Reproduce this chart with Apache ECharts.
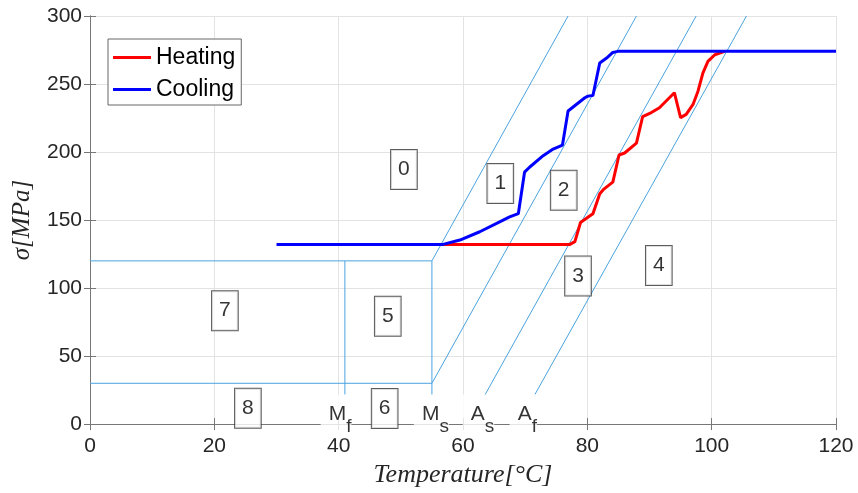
<!DOCTYPE html>
<html><head><meta charset="utf-8">
<script src="https://cdn.jsdelivr.net/npm/echarts@6/dist/echarts.min.js"></script>
<style>html,body{margin:0;padding:0;background:#fff}#chart{width:858px;height:493px}</style>
</head><body><div id="chart"></div>
<script>
// ---- data ----
const xMin = 0, xMax = 120, xStep = 20;
const yMin = 0, yMax = 300, yStep = 50;

const heatingT = [56.5, 77.2, 78.0, 78.9, 79.8, 80.9, 82.0, 82.6, 84.1, 85.1, 86.0, 87.9, 88.9, 90.3, 91.6, 94.0, 95.0, 95.9, 97.0, 97.8, 98.6, 99.4, 100.5, 102.1];
const heatingS = [132.1, 132.1, 134.1, 148.2, 151.1, 154.7, 169.3, 172.5, 177.9, 197.8, 199.3, 206.6, 226.1, 229.0, 232.6, 243.6, 225.3, 227.7, 235.0, 244.7, 258.2, 266.7, 271.5, 274.0];

const coolingT = [30, 56.8, 59.5, 62.7, 65.9, 67.5, 68.9, 69.9, 70.7, 72.9, 74.5, 76.0, 76.9, 79.6, 80.1, 80.9, 82.0, 83.1, 84.1, 84.9, 120];
const coolingS = [132.1, 132.1, 135.3, 141.4, 148.7, 152.3, 154.7, 185.2, 188.8, 197.3, 202.2, 205.1, 230.2, 239.9, 241.1, 241.6, 265.5, 269.1, 273.2, 274.0, 274.0];

// phase-diagram boundary segments [[T1,s1],[T2,s2]]
const boundarySegments = [
  [[0, 120], [55, 120]],
  [[0, 30], [55, 30]],
  [[55, 21.2], [55, 120]],
  [[41, 21.2], [41, 120]],
  [[55, 120], [76.9, 300]],
  [[55, 30], [87.9, 300]],
  [[63.5, 21.2], [97.5, 300]],
  [[71.5, 21.2], [105.6, 300]]
];

// region number boxes
const regionLabels = ['0', '1', '2', '3', '4', '5', '6', '7', '8'];
const regionT = [50.5, 66.0, 76.2, 78.5, 91.5, 47.9, 47.4, 21.7, 25.4];
const regionS = [187.2, 176.8, 171.9, 108.9, 116.6, 79.3, 11.5, 83.4, 11.6];

// transformation temperature labels (left edge, vertical centre)
const tempMain = ['M', 'M', 'A', 'A'];
const tempSub = ['f', 's', 's', 'f'];
const tempT = [37.1, 52.1, 59.96, 67.5];
const tempS = [5.84, 5.84, 5.84, 5.84];

// ---- build ----
const zip = (a, b) => a.map((v, i) => [v, b[i]]);
const thinColor = '#4aa3df';
const axisColor = '#777777';
const textColor = '#262626';
const sans = 'Liberation Sans, Arial, sans-serif';
const serif = 'Liberation Serif, Times New Roman, serif';

const series = [];
boundarySegments.forEach(seg => {
  series.push({
    type: 'line', data: seg, symbol: 'none', silent: true, z: 2,
    lineStyle: { color: thinColor, width: 1 }
  });
});
series.push({
  name: 'Heating', type: 'line', data: zip(heatingT, heatingS), symbol: 'none', z: 3,
  color: '#ff0000', lineStyle: { color: '#ff0000', width: 3 }
});
series.push({
  name: 'Cooling', type: 'line', data: zip(coolingT, coolingS), symbol: 'none', z: 4,
  color: '#0000ff', lineStyle: { color: '#0000ff', width: 3 }
});
series.push({
  type: 'scatter', z: 10, symbolSize: 0, silent: true,
  itemStyle: { color: 'transparent' },
  data: regionLabels.map((t, i) => ({ value: [regionT[i], regionS[i]], name: t })),
  label: {
    show: true, position: [0, 0], align: 'center', verticalAlign: 'middle',
    formatter: p => p.name,
    fontFamily: sans, fontSize: 21, lineHeight: 21, color: '#000',
    backgroundColor: '#fff', borderColor: '#333', borderWidth: 1,
    padding: [9, 7, 9, 7]
  }
});
series.push({
  type: 'scatter', z: 10, symbolSize: 0, silent: true,
  itemStyle: { color: 'transparent' },
  data: tempMain.map((m, i) => ({ value: [tempT[i], tempS[i]], name: m, sub: tempSub[i] })),
  label: {
    show: true, position: [0, 0], align: 'left', verticalAlign: 'middle',
    formatter: p => '{m|' + p.data.name + '}{s|' + p.data.sub + '}',
    backgroundColor: '#fff', padding: [10, 0, 2, 8],
    rich: {
      m: { fontFamily: sans, fontSize: 21, lineHeight: 32, color: '#000', verticalAlign: 'top' },
      s: { fontFamily: sans, fontSize: 19, lineHeight: 20, color: '#000', verticalAlign: 'bottom' }
    }
  }
});

const option = {
  backgroundColor: '#ffffff',
  animation: false,
  grid: { left: 90, right: 22, top: 16, bottom: 66 },
  legend: {
    data: ['Heating', 'Cooling'], left: 108, top: 39, orient: 'vertical',
    icon: 'rect', itemWidth: 38, itemHeight: 3, itemGap: 9,
    padding: [7, 6, 4, 5], borderColor: '#666', borderWidth: 1, backgroundColor: '#fff',
    textStyle: { fontFamily: sans, fontSize: 23, color: '#000' }
  },
  xAxis: [{
    type: 'value', min: xMin, max: xMax, interval: xStep, position: 'bottom',
    name: 'Temperature[°C]', nameLocation: 'middle', nameGap: 36,
    nameTextStyle: { fontFamily: serif, fontStyle: 'italic', fontSize: 26, color: textColor },
    axisLine: { show: true, lineStyle: { color: axisColor, width: 1 } },
    axisTick: { show: true, inside: true, length: 6, lineStyle: { color: axisColor } },
    axisLabel: { margin: 12, fontFamily: sans, fontSize: 21, color: textColor },
    splitLine: { show: true, lineStyle: { color: '#e3e3e3', width: 1 } }
  }, {
    type: 'value', min: xMin, max: xMax, interval: xStep, position: 'top',
    axisLine: { show: true, lineStyle: { color: axisColor, width: 1 } },
    axisTick: { show: true, inside: true, length: 6, lineStyle: { color: axisColor } },
    axisLabel: { show: false }, splitLine: { show: false }
  }],
  yAxis: [{
    type: 'value', min: yMin, max: yMax, interval: yStep, position: 'left',
    name: 'σ[MPa]', nameLocation: 'middle', nameGap: 55,
    nameTextStyle: { fontFamily: serif, fontStyle: 'italic', fontSize: 25, color: textColor },
    axisLine: { show: true, lineStyle: { color: axisColor, width: 1 } },
    axisTick: { show: true, inside: true, length: 6, lineStyle: { color: axisColor } },
    axisLabel: { margin: 8, fontFamily: sans, fontSize: 21, color: textColor },
    splitLine: { show: true, lineStyle: { color: '#e3e3e3', width: 1 } }
  }, {
    type: 'value', min: yMin, max: yMax, interval: yStep, position: 'right',
    axisLine: { show: true, lineStyle: { color: axisColor, width: 1 } },
    axisTick: { show: true, inside: true, length: 6, lineStyle: { color: axisColor } },
    axisLabel: { show: false }, splitLine: { show: false }
  }],
  series: series
};

const chart = echarts.init(document.getElementById('chart'), null, { renderer: 'canvas' });
chart.setOption(option);
</script>
</body></html>
